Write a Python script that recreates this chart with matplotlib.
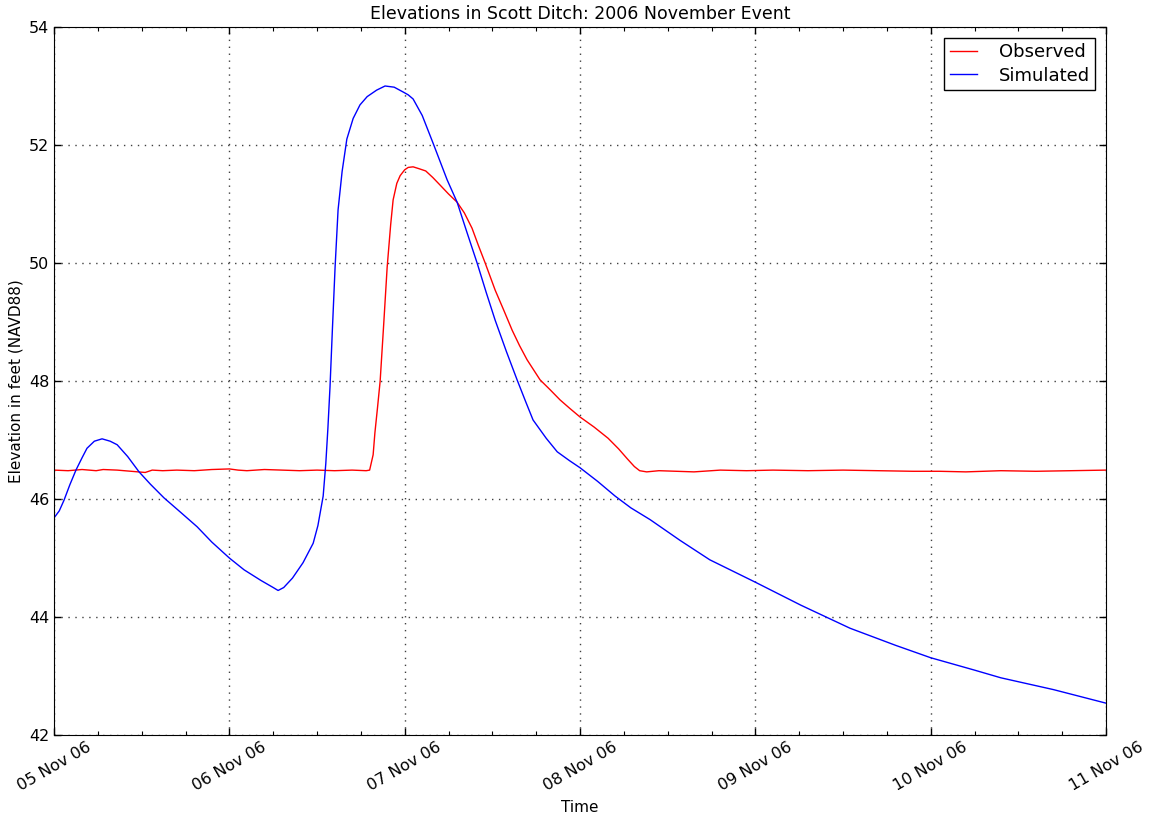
import datetime as dt
import matplotlib
matplotlib.use("Agg")
import matplotlib.pyplot as plt
import matplotlib.dates as mdates

start = dt.datetime(2006, 11, 5)

# observed stage: (days after 05 Nov 00:00, elevation ft)
obs_days = [0.00, 0.08, 0.16, 0.24, 0.28, 0.36, 0.44, 0.52, 0.56, 0.62,
            0.70, 0.80, 0.90, 1.00, 1.05, 1.10, 1.20, 1.30, 1.40, 1.50,
            1.60, 1.70, 1.78, 1.80, 1.82, 1.83, 1.845, 1.86, 1.88, 1.90,
            1.92, 1.934, 1.955, 1.974, 2.00, 2.02, 2.048, 2.08, 2.12, 2.16,
            2.202, 2.25, 2.299, 2.34, 2.384, 2.42, 2.459, 2.516, 2.565,
            2.613, 2.655, 2.698, 2.772, 2.83, 2.886, 2.94, 3.00, 3.08, 3.16,
            3.22, 3.27, 3.31, 3.34, 3.38, 3.45, 3.55, 3.65, 3.80, 3.95,
            4.10, 4.30, 4.50, 4.70, 4.90, 5.05, 5.20, 5.40, 5.60, 5.80,
            6.00]
obs_elev = [46.49, 46.48, 46.50, 46.48, 46.50, 46.49, 46.47, 46.45, 46.49,
            46.48, 46.49, 46.48, 46.50, 46.51, 46.49, 46.48, 46.50, 46.49,
            46.48, 46.49, 46.48, 46.49, 46.48, 46.49, 46.75, 47.12, 47.55,
            48.00, 48.95, 49.93, 50.65, 51.07, 51.35, 51.48, 51.58, 51.62,
            51.63, 51.60, 51.56, 51.45, 51.32, 51.17, 51.03, 50.85, 50.59,
            50.30, 50.00, 49.54, 49.20, 48.86, 48.60, 48.36, 48.02, 47.85,
            47.68, 47.54, 47.39, 47.22, 47.03, 46.85, 46.68, 46.55, 46.48,
            46.46, 46.48, 46.47, 46.46, 46.49, 46.48, 46.49, 46.48, 46.49,
            46.48, 46.47, 46.47, 46.46, 46.48, 46.47, 46.48, 46.49]

# simulated stage
sim_days = [0.00, 0.03, 0.057, 0.09, 0.125, 0.16, 0.188, 0.23, 0.274, 0.32,
            0.36, 0.42, 0.485, 0.55, 0.627, 0.72, 0.816, 0.90, 1.00, 1.084,
            1.18, 1.25, 1.278, 1.31, 1.36, 1.42, 1.478, 1.505, 1.52, 1.535,
            1.55, 1.562, 1.574, 1.588, 1.603, 1.62, 1.643, 1.67, 1.706,
            1.745, 1.786, 1.84, 1.888, 1.94, 1.99, 2.02, 2.048, 2.10, 2.162,
            2.242, 2.299, 2.355, 2.413, 2.465, 2.516, 2.58, 2.641, 2.69,
            2.732, 2.807, 2.87, 2.94, 3.00, 3.10, 3.20, 3.29, 3.40, 3.57,
            3.74, 4.00, 4.26, 4.54, 4.80, 5.00, 5.25, 5.40, 5.70, 6.00]
sim_elev = [45.68, 45.80, 45.98, 46.24, 46.49, 46.70, 46.86, 46.98, 47.02,
            46.98, 46.92, 46.72, 46.46, 46.25, 46.02, 45.78, 45.53, 45.27,
            45.00, 44.80, 44.62, 44.50, 44.45, 44.50, 44.66, 44.92, 45.25,
            45.55, 45.80, 46.05, 46.60, 47.20, 47.90, 48.90, 49.93, 50.90,
            51.55, 52.10, 52.45, 52.68, 52.82, 52.93, 53.00, 52.98, 52.90,
            52.85, 52.78, 52.50, 52.03, 51.41, 51.03, 50.52, 50.00, 49.50,
            49.03, 48.50, 48.02, 47.65, 47.34, 47.03, 46.80, 46.65, 46.53,
            46.30, 46.05, 45.85, 45.65, 45.30, 44.97, 44.59, 44.20, 43.81,
            43.52, 43.31, 43.10, 42.97, 42.77, 42.54]

obs_t = [start + dt.timedelta(days=d) for d in obs_days]
sim_t = [start + dt.timedelta(days=d) for d in sim_days]

fig = plt.figure(figsize=(11.52, 8.13), dpi=100)
ax = fig.add_axes([0.0469, 0.0959, 0.9132, 0.8709])

ax.plot(obs_t, obs_elev, color="red", lw=1.0, label="Observed")
ax.plot(sim_t, sim_elev, color="blue", lw=1.0, label="Simulated")

ax.set_xlim(start, start + dt.timedelta(days=6))
ax.set_ylim(42, 54)
ax.set_yticks([42, 44, 46, 48, 50, 52, 54])

ax.xaxis.set_major_locator(mdates.DayLocator())
ax.xaxis.set_minor_locator(mdates.HourLocator(byhour=[6, 12, 18]))
ax.xaxis.set_major_formatter(mdates.DateFormatter("%d %b %y"))

ax.tick_params(which="both", direction="in", top=True, right=True,
               labelsize=11.5)
ax.tick_params(which="major", length=5, width=1)
ax.tick_params(which="minor", length=3, width=0.8)
for lbl in ax.get_xticklabels():
    lbl.set_rotation(30)
    lbl.set_ha("center")

ax.grid(True, which="major", color="0.25", linestyle=(0, (1, 4)),
        linewidth=1.0)

ax.set_title("Elevations in Scott Ditch: 2006 November Event", fontsize=12.5)
ax.set_xlabel("Time", fontsize=11)
ax.set_ylabel("Elevation in feet (NAVD88)", fontsize=11)

leg = ax.legend(loc="upper right", fontsize=13, fancybox=False,
                framealpha=1, borderaxespad=0.6, handlelength=1.5,
                borderpad=0.3, handletextpad=1.2, labelspacing=0.3)
leg.get_frame().set_edgecolor("black")

fig.savefig("out.png", dpi=100)
